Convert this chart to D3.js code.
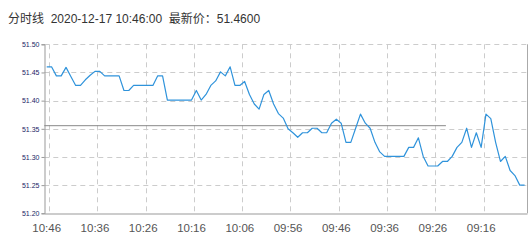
<!DOCTYPE html>
<html><head><meta charset="utf-8">
<script src="https://cdn.jsdelivr.net/npm/d3@7"></script>
<style>body{margin:0;background:#fff}svg{display:block}</style>
</head><body>
<script>
const titleText = "分时线  2020-12-17 10:46:00  最新价：51.4600";
// categories: minutes from 10:46 going back (latest first, left)
const times = [];
for (let m = 10*60+46, k = 0; k < 100; k++, m--) {
  times.push(String(Math.floor(m/60)).padStart(2,"0") + ":" + String(m%60).padStart(2,"0"));
}
const prices = [
 51.460,51.460,51.444,51.444,51.459,51.443,51.427,51.427,51.437,51.445,
 51.452,51.452,51.444,51.444,51.444,51.444,51.418,51.418,51.427,51.427,
 51.427,51.427,51.427,51.444,51.444,51.401,51.401,51.401,51.401,51.401,
 51.401,51.418,51.401,51.411,51.427,51.435,51.451,51.444,51.460,51.427,
 51.427,51.434,51.411,51.394,51.385,51.411,51.418,51.394,51.377,51.369,
 51.350,51.343,51.335,51.343,51.343,51.351,51.351,51.343,51.343,51.360,
 51.367,51.360,51.326,51.326,51.351,51.376,51.360,51.351,51.326,51.309,
 51.301,51.301,51.301,51.301,51.301,51.317,51.317,51.334,51.301,51.284,
 51.284,51.284,51.292,51.292,51.301,51.317,51.326,51.351,51.317,51.343,
 51.317,51.376,51.368,51.326,51.292,51.301,51.276,51.267,51.250,51.250
];
const yTicks = [51.20, 51.25, 51.30, 51.35, 51.40, 51.45, 51.50];
const xTickLabels = ["10:46","10:36","10:26","10:16","10:06","09:56","09:46","09:36","09:26","09:16"];
const refPrice = 51.3555;
const refEnd = "09:23";

const W = 531, H = 245;
const L = 44.3, R = 527, T = 44.3, B = 213.3;
const svg = d3.select("body").append("svg").attr("width", W).attr("height", H);

const x = d3.scaleBand().domain(times).range([L, R]).paddingInner(0).paddingOuter(0);
const bw = x.bandwidth();
const y = d3.scaleLinear().domain([51.20, 51.50]).range([B, T]);

// title
svg.append("text").attr("x", 8).attr("y", 23)
  .attr("font-family", "'Liberation Sans', Arial, 'Noto Sans CJK SC', sans-serif")
  .attr("font-size", 12).attr("fill", "#333")
  .attr("xml:space", "preserve").style("white-space", "pre")
  .text(titleText);

// horizontal grid
svg.append("g").selectAll("line").data(yTicks.filter(v => v > 51.20)).join("line")
  .attr("x1", L).attr("x2", R)
  .attr("y1", d => Math.round(y(d)) + 0.5).attr("y2", d => Math.round(y(d)) + 0.5)
  .attr("stroke", "#ccc").attr("stroke-dasharray", "5,4");

// vertical grid at right boundary of labelled bands
svg.append("g").selectAll("line").data(xTickLabels).join("line")
  .attr("x1", d => Math.round(x(d) + bw) + 0.5).attr("x2", d => Math.round(x(d) + bw) + 0.5)
  .attr("y1", T).attr("y2", B)
  .attr("stroke", "#ccc").attr("stroke-dasharray", "5,4");

// right border
svg.append("line").attr("x1", Math.round(R)+0.5).attr("x2", Math.round(R)+0.5)
  .attr("y1", T).attr("y2", B).attr("stroke", "#aaa");

// y axis
const yAxis = d3.axisLeft(y).tickValues(yTicks).tickFormat(d3.format(".2f")).tickSize(3).tickPadding(2);
const gy = svg.append("g").attr("transform", `translate(${Math.round(L)+0.5},0)`).call(yAxis);
gy.select(".domain").attr("stroke", "#999");
gy.selectAll(".tick line").attr("stroke", "#999");
gy.selectAll(".tick text").attr("font-family", "'Liberation Sans', Arial, sans-serif")
  .attr("font-size", 7).attr("fill", "#1b2466");

// x axis
const xAxis = d3.axisBottom(x).tickValues(xTickLabels).tickSize(0).tickPadding(10);
const gx = svg.append("g").attr("transform", `translate(0,${Math.round(B)+0.5})`).call(xAxis);
gx.select(".domain").attr("stroke", "#999");
gx.selectAll(".tick text").attr("font-family", "'Liberation Sans', Arial, sans-serif")
  .attr("font-size", 11.5).attr("fill", "#555");

// reference line
svg.append("line")
  .attr("x1", L).attr("x2", x(refEnd) + bw * 0.2)
  .attr("y1", y(refPrice)).attr("y2", y(refPrice))
  .attr("stroke", "#888").attr("stroke-width", 1);

// price line
const line = d3.line().x((d, i) => x(times[i]) + bw / 2).y(d => y(d));
svg.append("path").datum(prices).attr("d", line)
  .attr("fill", "none").attr("stroke", "#2f93db").attr("stroke-width", 1.2)
  .attr("stroke-linejoin", "round");
</script>
</body></html>
